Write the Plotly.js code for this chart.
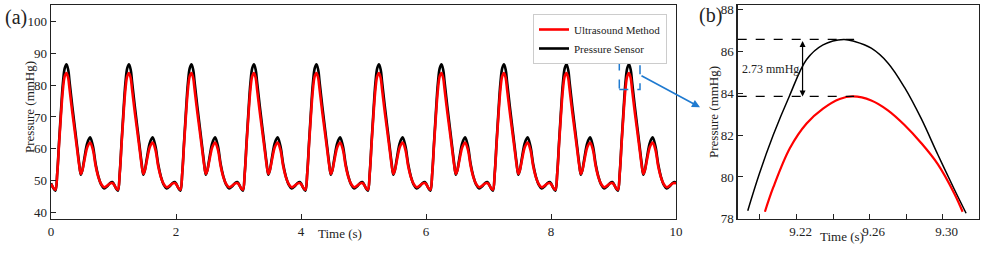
<!DOCTYPE html>
<html>
<head>
<meta charset="utf-8">
<script src="https://cdn.plot.ly/plotly-3.0.1.min.js"></script>
<style>html,body{margin:0;padding:0;background:#fff;}#chart{width:981px;height:254px;}</style>
</head>
<body>
<div id="chart"></div>
<script>
// ---- Panel (a): full 10 s recording ----
const time_s = [
0.000,0.035,0.070,0.100,0.130,0.160,0.190,0.220,0.248,0.275,0.300,0.340,0.380,0.420,0.450,0.477,0.500,0.540,0.580,0.625,0.670,0.715,0.760,0.800,0.850,0.900,0.950,0.980,
1.000,1.035,1.070,1.100,1.130,1.160,1.190,1.220,1.248,1.275,1.300,1.340,1.380,1.420,1.450,1.477,1.500,1.540,1.580,1.625,1.670,1.715,1.760,1.800,1.850,1.900,1.950,1.980,
2.000,2.035,2.070,2.100,2.130,2.160,2.190,2.220,2.248,2.275,2.300,2.340,2.380,2.420,2.450,2.477,2.500,2.540,2.580,2.625,2.670,2.715,2.760,2.800,2.850,2.900,2.950,2.980,
3.000,3.035,3.070,3.100,3.130,3.160,3.190,3.220,3.248,3.275,3.300,3.340,3.380,3.420,3.450,3.477,3.500,3.540,3.580,3.625,3.670,3.715,3.760,3.800,3.850,3.900,3.950,3.980,
4.000,4.035,4.070,4.100,4.130,4.160,4.190,4.220,4.248,4.275,4.300,4.340,4.380,4.420,4.450,4.477,4.500,4.540,4.580,4.625,4.670,4.715,4.760,4.800,4.850,4.900,4.950,4.980,
5.000,5.035,5.070,5.100,5.130,5.160,5.190,5.220,5.248,5.275,5.300,5.340,5.380,5.420,5.450,5.477,5.500,5.540,5.580,5.625,5.670,5.715,5.760,5.800,5.850,5.900,5.950,5.980,
6.000,6.035,6.070,6.100,6.130,6.160,6.190,6.220,6.248,6.275,6.300,6.340,6.380,6.420,6.450,6.477,6.500,6.540,6.580,6.625,6.670,6.715,6.760,6.800,6.850,6.900,6.950,6.980,
7.000,7.035,7.070,7.100,7.130,7.160,7.190,7.220,7.248,7.275,7.300,7.340,7.380,7.420,7.450,7.477,7.500,7.540,7.580,7.625,7.670,7.715,7.760,7.800,7.850,7.900,7.950,7.980,
8.000,8.035,8.070,8.100,8.130,8.160,8.190,8.220,8.248,8.275,8.300,8.340,8.380,8.420,8.450,8.477,8.500,8.540,8.580,8.625,8.670,8.715,8.760,8.800,8.850,8.900,8.950,8.980,
9.000,9.035,9.070,9.100,9.130,9.160,9.190,9.220,9.248,9.275,9.300,9.340,9.380,9.420,9.450,9.477,9.500,9.540,9.580,9.625,9.670,9.715,9.760,9.800,9.850,9.900,9.950,9.980,
10.000];

const pressureSensor = [
49.2,47.8,46.9,52.5,62.5,72.0,80.5,85.3,86.5,84.8,80.5,73.5,67.0,60.5,55.5,51.9,53.2,57.8,61.8,63.6,61.0,55.2,51.2,48.9,47.6,48.3,49.4,49.6,
49.2,47.8,46.9,52.5,62.5,72.0,80.5,85.3,86.5,84.8,80.5,73.5,67.0,60.5,55.5,51.9,53.2,57.8,61.8,63.6,61.0,55.2,51.2,48.9,47.6,48.3,49.4,49.6,
49.2,47.8,46.9,52.5,62.5,72.0,80.5,85.3,86.5,84.8,80.5,73.5,67.0,60.5,55.5,51.9,53.2,57.8,61.8,63.6,61.0,55.2,51.2,48.9,47.6,48.3,49.4,49.6,
49.2,47.8,46.9,52.5,62.5,72.0,80.5,85.3,86.5,84.8,80.5,73.5,67.0,60.5,55.5,51.9,53.2,57.8,61.8,63.6,61.0,55.2,51.2,48.9,47.6,48.3,49.4,49.6,
49.2,47.8,46.9,52.5,62.5,72.0,80.5,85.3,86.5,84.8,80.5,73.5,67.0,60.5,55.5,51.9,53.2,57.8,61.8,63.6,61.0,55.2,51.2,48.9,47.6,48.3,49.4,49.6,
49.2,47.8,46.9,52.5,62.5,72.0,80.5,85.3,86.5,84.8,80.5,73.5,67.0,60.5,55.5,51.9,53.2,57.8,61.8,63.6,61.0,55.2,51.2,48.9,47.6,48.3,49.4,49.6,
49.2,47.8,46.9,52.5,62.5,72.0,80.5,85.3,86.5,84.8,80.5,73.5,67.0,60.5,55.5,51.9,53.2,57.8,61.8,63.6,61.0,55.2,51.2,48.9,47.6,48.3,49.4,49.6,
49.2,47.8,46.9,52.5,62.5,72.0,80.5,85.3,86.5,84.8,80.5,73.5,67.0,60.5,55.5,51.9,53.2,57.8,61.8,63.6,61.0,55.2,51.2,48.9,47.6,48.3,49.4,49.6,
49.2,47.8,46.9,52.5,62.5,72.0,80.5,85.3,86.5,84.8,80.5,73.5,67.0,60.5,55.5,51.9,53.2,57.8,61.8,63.6,61.0,55.2,51.2,48.9,47.6,48.3,49.4,49.6,
49.2,47.8,46.9,52.5,62.5,72.0,80.5,85.3,86.5,84.8,80.5,73.5,67.0,60.5,55.5,51.9,53.2,57.8,61.8,63.6,61.0,55.2,51.2,48.9,47.6,48.3,49.4,49.6,
49.2];

const ultrasoundMethod = [
49.0,47.9,47.2,52.3,61.8,70.8,78.5,82.8,83.8,82.2,78.2,71.6,65.6,59.5,55.0,52.2,53.2,57.0,60.5,62.0,59.8,54.6,51.0,49.1,48.0,48.5,49.2,49.3,
49.0,47.9,47.2,52.3,61.8,70.8,78.5,82.8,83.8,82.2,78.2,71.6,65.6,59.5,55.0,52.2,53.2,57.0,60.5,62.0,59.8,54.6,51.0,49.1,48.0,48.5,49.2,49.3,
49.0,47.9,47.2,52.3,61.8,70.8,78.5,82.8,83.8,82.2,78.2,71.6,65.6,59.5,55.0,52.2,53.2,57.0,60.5,62.0,59.8,54.6,51.0,49.1,48.0,48.5,49.2,49.3,
49.0,47.9,47.2,52.3,61.8,70.8,78.5,82.8,83.8,82.2,78.2,71.6,65.6,59.5,55.0,52.2,53.2,57.0,60.5,62.0,59.8,54.6,51.0,49.1,48.0,48.5,49.2,49.3,
49.0,47.9,47.2,52.3,61.8,70.8,78.5,82.8,83.8,82.2,78.2,71.6,65.6,59.5,55.0,52.2,53.2,57.0,60.5,62.0,59.8,54.6,51.0,49.1,48.0,48.5,49.2,49.3,
49.0,47.9,47.2,52.3,61.8,70.8,78.5,82.8,83.8,82.2,78.2,71.6,65.6,59.5,55.0,52.2,53.2,57.0,60.5,62.0,59.8,54.6,51.0,49.1,48.0,48.5,49.2,49.3,
49.0,47.9,47.2,52.3,61.8,70.8,78.5,82.8,83.8,82.2,78.2,71.6,65.6,59.5,55.0,52.2,53.2,57.0,60.5,62.0,59.8,54.6,51.0,49.1,48.0,48.5,49.2,49.3,
49.0,47.9,47.2,52.3,61.8,70.8,78.5,82.8,83.8,82.2,78.2,71.6,65.6,59.5,55.0,52.2,53.2,57.0,60.5,62.0,59.8,54.6,51.0,49.1,48.0,48.5,49.2,49.3,
49.0,47.9,47.2,52.3,61.8,70.8,78.5,82.8,83.8,82.2,78.2,71.6,65.6,59.5,55.0,52.2,53.2,57.0,60.5,62.0,59.8,54.6,51.0,49.1,48.0,48.5,49.2,49.3,
49.0,47.9,47.2,52.3,61.8,70.8,78.5,82.8,83.8,82.2,78.2,71.6,65.6,59.5,55.0,52.2,53.2,57.0,60.5,62.0,59.8,54.6,51.0,49.1,48.0,48.5,49.2,49.3,
49.0];

// ---- Panel (b): zoom on the last systolic peak ----
const zoomTime_sensor = [9.1933,9.1996,9.2073,9.2160,9.2255,9.2345,9.2458,9.2518,9.2609,9.2700,9.2791,9.2882,9.2973,9.3064,9.3128];
const zoomSensor      = [78.39,80.14,82.01,83.84,85.60,86.30,86.56,86.46,86.14,85.44,84.27,82.79,81.07,79.40,78.27];
const zoomTime_ultra  = [9.2027,9.2073,9.2164,9.2255,9.2345,9.2436,9.2509,9.2609,9.2700,9.2791,9.2882,9.2973,9.3064,9.3109];
const zoomUltra       = [78.34,79.51,81.38,82.55,83.26,83.72,83.84,83.65,83.18,82.48,81.62,80.61,79.20,78.34];

const peakSensor = 86.56, peakUltra = 83.84;
const diffLabel = '2.73 mmHg';

const xTicksA = [0,2,4,6,8,10];
const yTicksA = [40,50,60,70,80,90,100];
const xTicksB = [9.20,9.22,9.24,9.26,9.28,9.30];
const xTickTextB = ['','9.22','','9.26','','9.30'];
const yTicksB = [78,80,82,84,86,88];

const W = 981, H = 254;
const FONT = 'Liberation Serif, Times New Roman, serif';
const AX = '#222';
const BLUE = '#1f7ad0';

const traces = [
  {x: time_s, y: pressureSensor, xaxis:'x', yaxis:'y', mode:'lines', name:'Pressure Sensor',
   line:{color:'#000', width:2.6, shape:'spline', smoothing:1}},
  {x: time_s, y: ultrasoundMethod, xaxis:'x', yaxis:'y', mode:'lines', name:'Ultrasound Method',
   line:{color:'#ff0000', width:2.6, shape:'spline', smoothing:1}},
  {x: zoomTime_sensor, y: zoomSensor, xaxis:'x2', yaxis:'y2', mode:'lines', showlegend:false,
   line:{color:'#000', width:1.5, shape:'spline', smoothing:1}},
  {x: zoomTime_ultra, y: zoomUltra, xaxis:'x2', yaxis:'y2', mode:'lines', showlegend:false,
   line:{color:'#ff0000', width:2.2, shape:'spline', smoothing:1}}
];

const axCommon = {showline:true, mirror:true, linecolor:AX, linewidth:1.3, ticks:'inside', ticklen:5,
  tickwidth:1, tickcolor:AX, showgrid:false, zeroline:false, ticklabeloverflow:'allow',
  tickfont:{family:FONT, size:13, color:'#222'}};

const yTop = 1 - 5/H, yBot = 1 - 219/H;

const layout = {
  width: W, height: H, margin:{l:0,r:0,t:0,b:0}, paper_bgcolor:'#fff', plot_bgcolor:'#fff',
  font:{family:FONT, size:13, color:'#222'},
  xaxis: Object.assign({}, axCommon, {domain:[51/W, 676/W], range:[0,10], tickmode:'array', tickvals:xTicksA}),
  yaxis: Object.assign({}, axCommon, {domain:[yBot, yTop], range:[38.03,105.1], tickmode:'array', tickvals:yTicksA}),
  xaxis2: Object.assign({}, axCommon, {anchor:'y2', domain:[737.7/W, 978.7/W], range:[9.1878,9.3197], tickmode:'array',
    tickvals:xTicksB, ticktext:xTickTextB, ticklabelshift:4}),
  yaxis2: Object.assign({}, axCommon, {anchor:'x2', domain:[yBot, yTop], range:[77.995,88.2], tickmode:'array',
    tickvals:yTicksB}),
  showlegend:true,
  legend:{x:667/W, xanchor:'right', y:1-14/H, yanchor:'top', bgcolor:'#fff', bordercolor:'#ccc', borderwidth:1,
    traceorder:'reversed', font:{family:FONT, size:11, color:'#222'}},
  shapes:[
    {type:'rect', xref:'x', yref:'y', x0:9.093, x1:9.424, y0:78.6, y1:87.8, line:{color:BLUE, width:1.5, dash:'dash'}},
    {type:'line', xref:'x2 domain', yref:'y2', x0:0, x1:0.483, y0:peakSensor, y1:peakSensor, line:{color:'#000', width:1.2, dash:'dash'}},
    {type:'line', xref:'x2 domain', yref:'y2', x0:0, x1:0.483, y0:peakUltra, y1:peakUltra, line:{color:'#000', width:1.2, dash:'dash'}}
  ],
  annotations:[
    {xref:'paper', yref:'paper', x:3/W, y:1-18/H, xanchor:'left', yanchor:'middle', text:'(a)', showarrow:false, font:{family:FONT, size:20, color:'#222'}},
    {xref:'paper', yref:'paper', x:697/W, y:1-15/H, xanchor:'left', yanchor:'middle', text:'(b)', showarrow:false, font:{family:FONT, size:20, color:'#222'}},
    {xref:'paper', yref:'paper', x:340/W, y:1-233/H, xanchor:'center', yanchor:'middle', text:'Time (s)', showarrow:false, font:{family:FONT, size:13, color:'#222'}},
    {xref:'paper', yref:'paper', x:30/W, y:1-107/H, xanchor:'center', yanchor:'middle', textangle:-90, text:'Pressure (mmHg)', showarrow:false, font:{family:FONT, size:13, color:'#222'}},
    {xref:'paper', yref:'paper', x:842/W, y:1-236/H, xanchor:'center', yanchor:'middle', text:'Time (s)', showarrow:false, font:{family:FONT, size:13, color:'#222'}},
    {xref:'paper', yref:'paper', x:713/W, y:1-112/H, xanchor:'center', yanchor:'middle', textangle:-90, text:'Pressure (mmHg)', showarrow:false, font:{family:FONT, size:13, color:'#222'}},
    {xref:'x2', yref:'y2', x:9.2055, y:85.16, xanchor:'center', yanchor:'middle', text:diffLabel, showarrow:false, bgcolor:'rgba(255,255,255,0)', font:{family:FONT, size:12, color:'#222'}},
    {xref:'x2', yref:'y2', axref:'x2', ayref:'y2', x:9.2233, y:peakUltra, ax:9.2233, ay:peakSensor, text:'', showarrow:true,
     arrowhead:2, startarrowhead:2, arrowside:'end+start', arrowsize:1, startarrowsize:1, arrowwidth:1.2, arrowcolor:'#000', standoff:0, startstandoff:0},
    {xref:'paper', yref:'paper', x:700/W, y:1-107.3/H, ax:-60, ay:-32.3, text:'', showarrow:true,
     arrowhead:2, arrowsize:1, arrowwidth:1.6, arrowcolor:BLUE, standoff:0}
  ]
};

Plotly.newPlot('chart', traces, layout, {displayModeBar:false, staticPlot:true});
</script>
</body>
</html>
